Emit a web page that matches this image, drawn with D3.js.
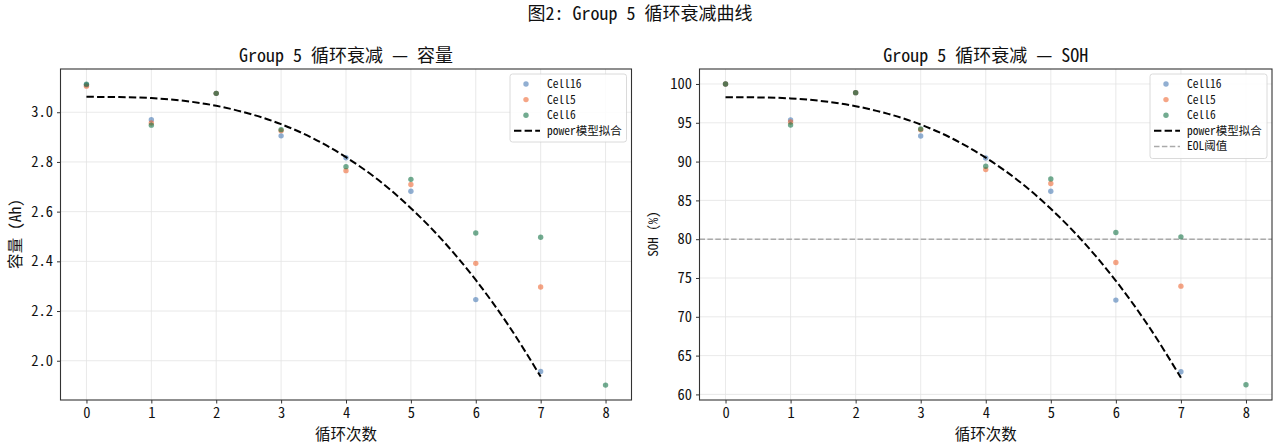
<!DOCTYPE html>
<html>
<head>
<meta charset="utf-8">
<script src="https://cdn.jsdelivr.net/npm/d3@7"></script>
<style>
  body { margin: 0; background: #fff; }
  text { font-family: "Noto Sans Mono CJK SC", "Noto Sans CJK SC", "DejaVu Sans", sans-serif; fill: #111; }
</style>
</head>
<body>
<svg id="fig" width="1280" height="446"></svg>
<script>
// cycle index per cell
const cycles16 = [0, 1, 2, 3, 4, 5, 6, 7];
const cycles5 = [0, 1, 2, 3, 4, 5, 6, 7];
const cycles6 = [0, 1, 2, 3, 4, 5, 6, 7, 8];

// capacity (Ah)
const cap16 = [3.110, 2.970, 3.076, 2.905, 2.817, 2.682, 2.246, 1.957];
const cap5 = [3.105, 2.957, 3.076, 2.926, 2.765, 2.709, 2.392, 2.297];
const cap6 = [3.113, 2.948, 3.076, 2.930, 2.781, 2.730, 2.514, 2.497, 1.902];

// SOH (%)
const soh16 = [100, 95.37, 98.88, 93.30, 90.47, 86.18, 72.15, 62.92];
const soh5 = [100, 95.10, 98.88, 94.10, 88.97, 87.17, 77.00, 73.95];
const soh6 = [100, 94.72, 98.88, 94.20, 89.40, 87.77, 80.86, 80.30, 61.25];

// power model fit curve, sampled
const fitX = [0, 0.5, 1, 1.5, 2, 2.5, 3, 3.5, 4, 4.5, 5, 5.5, 6, 6.5, 7];
const fitCap = [3.062, 3.061, 3.057, 3.046, 3.026, 2.995, 2.952, 2.894, 2.819, 2.727, 2.614, 2.481, 2.325, 2.144, 1.936];
const fitSoh = [98.30, 98.27, 98.14, 97.78, 97.14, 96.15, 94.77, 92.91, 90.50, 87.54, 83.92, 79.65, 74.64, 68.83, 62.15];

const eolValue = 80;
const xTicks = [0, 1, 2, 3, 4, 5, 6, 7, 8];
const capTicks = [2.0, 2.2, 2.4, 2.6, 2.8, 3.0];
const sohTicks = [60, 65, 70, 75, 80, 85, 90, 95, 100];

const cellNames = ['Cell16', 'Cell5', 'Cell6'];
const cellColors = ['#3d72b0', '#ed612b', '#076b3c'];

const svg = d3.select('#fig');

svg.append('text')
  .attr('x', 640).attr('y', 20)
  .attr('text-anchor', 'middle')
  .style('font-size', '18px')
  .text('图2: Group 5 循环衰减曲线');

function panel(opts) {
  const left = opts.left, right = opts.right, top = 69, bottom = 400;
  const g = svg.append('g');

  const x = d3.scaleLinear().domain([-0.4, 8.4]).range([left, right]);
  const y = d3.scaleLinear().domain(opts.yDomain).range([bottom, top]);

  // grid
  g.append('g').selectAll('line').data(xTicks).enter().append('line')
    .attr('x1', d => x(d)).attr('x2', d => x(d))
    .attr('y1', top).attr('y2', bottom)
    .attr('stroke', '#e3e3e3').attr('stroke-width', 0.8);
  g.append('g').selectAll('line').data(opts.yTicks).enter().append('line')
    .attr('x1', left).attr('x2', right)
    .attr('y1', d => y(d)).attr('y2', d => y(d))
    .attr('stroke', '#e3e3e3').attr('stroke-width', 0.8);

  // EOL threshold
  if (opts.eol) {
    g.append('line')
      .attr('x1', left).attr('x2', right)
      .attr('y1', y(eolValue)).attr('y2', y(eolValue))
      .attr('stroke', '#aaaaaa').attr('stroke-width', 1.5)
      .attr('stroke-dasharray', '5.5,2.4');
  }

  // scatter
  opts.series.forEach((s, i) => {
    g.append('g').selectAll('circle').data(s.xs).enter().append('circle')
      .attr('cx', d => x(d))
      .attr('cy', (d, j) => y(s.ys[j]))
      .attr('r', 2.7)
      .attr('fill', cellColors[i])
      .attr('fill-opacity', 0.57);
  });

  // fit line
  const line = d3.line()
    .x(d => x(d[0])).y(d => y(d[1]))
    .curve(d3.curveMonotoneX);
  g.append('path')
    .datum(fitX.map((v, i) => [v, opts.fit[i]]))
    .attr('d', line)
    .attr('fill', 'none')
    .attr('stroke', '#000')
    .attr('stroke-width', 2)
    .attr('stroke-dasharray', '7.4,3.2');

  // axes
  const xAxis = g.append('g')
    .attr('transform', `translate(0,${bottom})`)
    .call(d3.axisBottom(x).tickValues(xTicks).tickFormat(d3.format('d')).tickSize(3.5).tickPadding(4));
  const yAxis = g.append('g')
    .attr('transform', `translate(${left},0)`)
    .call(d3.axisLeft(y).tickValues(opts.yTicks).tickFormat(opts.fmt).tickSize(3.5).tickPadding(4));
  [xAxis, yAxis].forEach(a => {
    a.select('.domain').remove();
    a.selectAll('line').attr('stroke', '#333');
    a.selectAll('text').style('font-size', '14.5px')
      .style('font-family', '"Noto Sans Mono CJK SC", "Noto Sans CJK SC", sans-serif').attr('fill', '#111');
  });

  // frame
  g.append('rect')
    .attr('x', left).attr('y', top)
    .attr('width', right - left).attr('height', bottom - top)
    .attr('fill', 'none').attr('stroke', '#333').attr('stroke-width', 1.1);

  // titles
  g.append('text')
    .attr('x', (left + right) / 2).attr('y', 62)
    .attr('text-anchor', 'middle')
    .style('font-size', '18px')
    .text(opts.title);
  g.append('text')
    .attr('x', (left + right) / 2).attr('y', 440)
    .attr('text-anchor', 'middle')
    .style('font-size', '15.5px')
    .text('循环次数');
  g.append('text')
    .attr('transform', `translate(${opts.ylabelX},234) rotate(-90)`)
    .attr('text-anchor', 'middle')
    .style('font-size', opts.ylabelSize)
    .text(opts.ylabel);

  // legend
  const items = cellNames.map((n, i) => ({ type: 'dot', label: n, color: cellColors[i] }));
  items.push({ type: 'fit', label: 'power模型拟合' });
  if (opts.eol) items.push({ type: 'eol', label: 'EOL阈值' });
  const lx = opts.legendX, lw = right - 5 - lx;
  const lg = g.append('g');
  lg.append('rect')
    .attr('x', lx).attr('y', 74)
    .attr('width', lw).attr('height', 16.5 * items.length + 2)
    .attr('rx', 2.5)
    .attr('fill', '#fff').attr('fill-opacity', 0.85)
    .attr('stroke', '#d0d0d0').attr('stroke-width', 0.8);
  items.forEach((it, i) => {
    const cy = 84 + i * 15.6;
    if (it.type === 'dot') {
      lg.append('circle').attr('cx', lx + 16).attr('cy', cy).attr('r', 2.7)
        .attr('fill', it.color).attr('fill-opacity', 0.57);
    } else if (it.type === 'fit') {
      lg.append('line').attr('x1', lx + 4).attr('x2', lx + 30).attr('y1', cy).attr('y2', cy)
        .attr('stroke', '#000').attr('stroke-width', 2).attr('stroke-dasharray', '7.4,3.2');
    } else {
      lg.append('line').attr('x1', lx + 4).attr('x2', lx + 30).attr('y1', cy).attr('y2', cy)
        .attr('stroke', '#aaaaaa').attr('stroke-width', 1.5).attr('stroke-dasharray', '5.5,2.4');
    }
    lg.append('text').attr('x', lx + 37).attr('y', cy + 4)
      .style('font-size', '11.5px').text(it.label);
  });
}

panel({
  left: 60.5, right: 631.5,
  yDomain: [1.842, 3.174],
  yTicks: capTicks,
  fmt: d3.format('.1f'),
  series: [
    { xs: cycles16, ys: cap16 },
    { xs: cycles5, ys: cap5 },
    { xs: cycles6, ys: cap6 }
  ],
  fit: fitCap,
  eol: false,
  title: 'Group 5 循环衰减 — 容量',
  ylabel: '容量 (Ah)', ylabelX: 21, ylabelSize: '15.5px',
  legendX: 510
});

panel({
  left: 699.5, right: 1272,
  yDomain: [59.28, 101.93],
  yTicks: sohTicks,
  fmt: d3.format('d'),
  series: [
    { xs: cycles16, ys: soh16 },
    { xs: cycles5, ys: soh5 },
    { xs: cycles6, ys: soh6 }
  ],
  fit: fitSoh,
  eol: true,
  title: 'Group 5 循环衰减 — SOH',
  ylabel: 'SOH (%)', ylabelX: 658, ylabelSize: '13px',
  legendX: 1150
});
</script>
</body>
</html>
